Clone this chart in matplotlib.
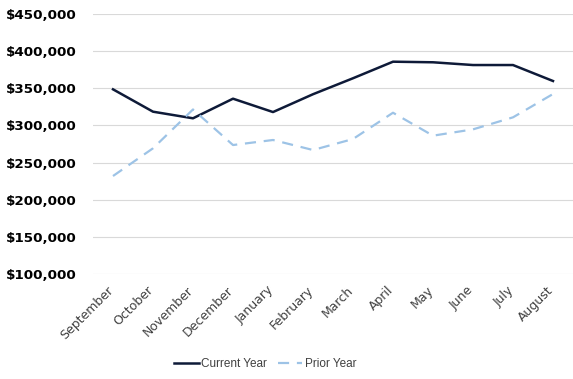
import matplotlib
matplotlib.use("Agg")
import matplotlib.pyplot as plt
import matplotlib.transforms as mtransforms
from matplotlib.ticker import FuncFormatter

months = ["September", "October", "November", "December", "January", "February",
          "March", "April", "May", "June", "July", "August"]
current_year = [348600, 318500, 309600, 336000, 318000, 342000,
                363500, 385800, 385000, 381300, 381300, 359800]
prior_year = [231900, 269200, 321500, 273600, 280400, 266900,
              281700, 317100, 286200, 294700, 310900, 342300]

plt.rcParams['font.family'] = ['DejaVu Sans']

fig = plt.figure(figsize=(5.73, 3.79), dpi=100)
ax = fig.add_axes([93 / 573, 1 - 274 / 379, 480 / 573, 260 / 379])

x = range(len(months))
ax.plot(x, current_year, color="#0e1a38", lw=1.8, label="Current Year")
ax.plot(x, prior_year, color="#9dc3e6", lw=1.6, ls=(0, (5, 3.5)), label="Prior Year")

ax.set_xlim(-0.5, len(months) - 0.5)
ax.set_ylim(100000, 450000)
ax.set_yticks(range(100000, 450001, 50000))
ax.yaxis.set_major_formatter(FuncFormatter(lambda v, p: f"${v:,.0f}"))
ax.grid(axis="y", color="#d9d9d9", lw=0.8)
ax.set_axisbelow(True)
for s in ax.spines.values():
    s.set_visible(False)
ax.tick_params(length=0)
ax.tick_params(axis="y", pad=12, labelsize=9.7)
for t in ax.get_yticklabels():
    t.set_fontweight("bold")
ax.set_xticks(list(x))
ax.set_xticklabels(months, rotation=45, ha="right", rotation_mode="anchor",
                   fontsize=9, color="#404040")
ax.tick_params(axis="x", pad=7)
shift = mtransforms.ScaledTranslation(-6 / 100, 0, fig.dpi_scale_trans)
for t in ax.get_xticklabels():
    t.set_transform(t.get_transform() + shift)

fig.legend(loc="center", bbox_to_anchor=(265 / 573, 1 - 364 / 379), ncol=2, frameon=False,
           prop={"family": ["Liberation Sans", "DejaVu Sans"], "size": 8.5},
           handlelength=2.1, columnspacing=0.9, handletextpad=0.2,
           labelcolor="#404040")

fig.savefig("out.png", dpi=100)
